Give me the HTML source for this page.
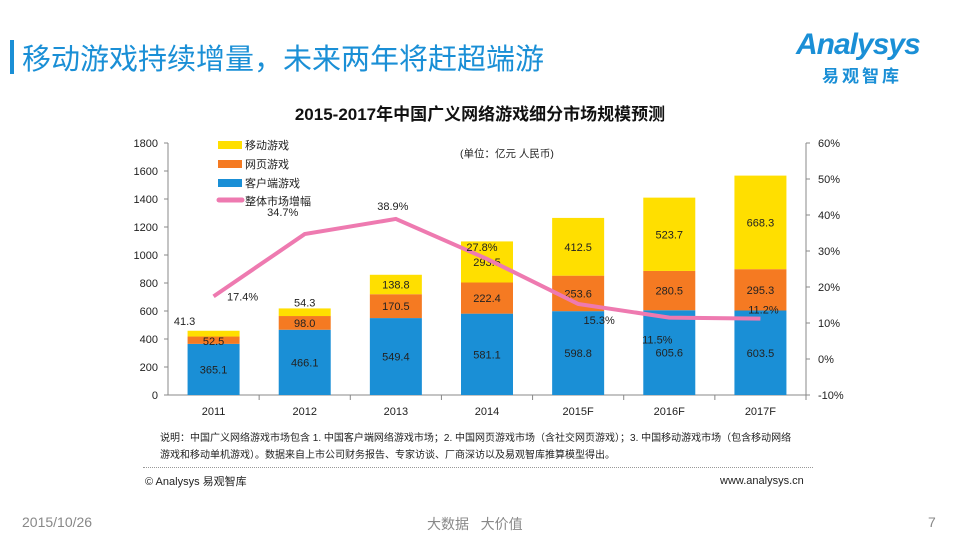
<!DOCTYPE html>
<html><head><meta charset="utf-8"><style>
body{margin:0;width:960px;height:540px;background:#fff;font-family:"Liberation Sans","Noto Sans CJK SC",sans-serif;overflow:hidden;position:relative}
.a{position:absolute;white-space:nowrap}
</style></head><body>
<div class="a" style="left:10px;top:40px;width:4px;height:34px;background:#1a8fd6"></div>
<div class="a" style="left:22px;top:36px;font-size:29px;color:#1a8fd6">移动游戏持续增量，未来两年将赶超端游</div>
<div class="a" style="left:796px;top:28px;font-size:30px;color:#1a8fd6;font-style:italic;font-weight:bold;letter-spacing:-1px">Analysys</div>
<div class="a" style="left:822px;top:62px;font-size:17px;color:#1a8fd6;font-weight:bold;letter-spacing:3px">易观智库</div>
<div class="a" style="left:0;width:960px;top:100px;text-align:center;font-size:17px;font-weight:bold;color:#111">2015-2017年中国广义网络游戏细分市场规模预测</div>
<svg class="a" style="left:0;top:0" width="960" height="540" id="chart"></svg>
<div class="a" style="left:160px;top:430px;font-size:10px;line-height:17px;color:#222">说明：中国广义网络游戏市场包含 1. 中国客户端网络游戏市场；2. 中国网页游戏市场（含社交网页游戏）；3. 中国移动游戏市场（包含移动网络<br>游戏和移动单机游戏）。数据来自上市公司财务报告、专家访谈、厂商深访以及易观智库推算模型得出。</div>
<div class="a" style="left:143px;top:467px;width:670px;border-top:1px dotted #999"></div>
<div class="a" style="left:145px;top:473px;font-size:11px;color:#222">© Analysys 易观智库</div>
<div class="a" style="left:720px;top:475px;font-size:11px;color:#222">www.analysys.cn</div>
<div class="a" style="left:22px;top:514px;font-size:14px;color:#888">2015/10/26</div>
<div class="a" style="left:427px;top:514px;font-size:14px;color:#888">大数据&nbsp;&nbsp;&nbsp;大价值</div>
<div class="a" style="left:928px;top:514px;font-size:14px;color:#888">7</div>
<script>
const categories=["2011","2012","2013","2014","2015F","2016F","2017F"];
const clientVals=[365.1,466.1,549.4,581.1,598.8,605.6,603.5];
const webVals=[52.5,98.0,170.5,222.4,253.6,280.5,295.3];
const mobileVals=[41.3,54.3,138.8,293.5,412.5,523.7,668.3];
const growthVals=[17.4,34.7,38.9,27.8,15.3,11.5,11.2];
const leftTicks=[0,200,400,600,800,1000,1200,1400,1600,1800];
const rightTicks=[-10,0,10,20,30,40,50,60];
const svg=document.getElementById('chart');const NS='http://www.w3.org/2000/svg';
const X0=168,X1=806,Y0=395,Y1=143;
const bw=(X1-X0)/categories.length;
const yL=v=>Y0-(v/1800)*(Y0-Y1);
const yR=v=>Y0-((v+10)/70)*(Y0-Y1);
const xc=i=>X0+bw*(i+0.5);
function mk(t,a,name){const e=document.createElementNS(NS,t);for(const k in a)e.setAttribute(k,a[k]);


svg.appendChild(e);return e;}
function tx(x,y,s,anchor,name,size){const e=mk('text',{x:x,y:y,'text-anchor':anchor||'middle','font-size':size||11,fill:'#222','font-family':'Liberation Sans, Noto Sans CJK SC, sans-serif'},name);e.textContent=s;return e;}
mk('line',{x1:X0,y1:Y1,x2:X0,y2:Y0,stroke:'#888'},'left-axis');
mk('line',{x1:X1,y1:Y1,x2:X1,y2:Y0,stroke:'#888'},'right-axis');
mk('line',{x1:X0,y1:Y0,x2:X1,y2:Y0,stroke:'#888'},'x-axis');
leftTicks.forEach(t=>{mk('line',{x1:X0-4,y1:yL(t),x2:X0,y2:yL(t),stroke:'#888'},'left-tick');tx(X0-10,yL(t)+4,t,'end','left-tick-label',11);});
rightTicks.forEach(t=>{mk('line',{x1:X1,y1:yR(t),x2:X1+4,y2:yR(t),stroke:'#888'},'right-tick');tx(X1+12,yR(t)+4,t+'%','start','right-tick-label',11);});
categories.forEach((c,i)=>{
 mk('line',{x1:X0+bw*(i+1),y1:Y0,x2:X0+bw*(i+1),y2:Y0+5,stroke:'#888'},'x-tick');
 tx(xc(i),Y0+20,c,'middle','x-tick-label',11);
 const w=52,x=xc(i)-w/2;
 const segs=[[clientVals[i],'#1a8fd6','bar-client'],[webVals[i],'#f57a22','bar-web'],[mobileVals[i],'#ffdf00','bar-mobile']];
 let base=0;
 segs.forEach((s,k)=>{const y2=yL(base),y1=yL(base+s[0]);mk('rect',{x:x,y:y1,width:w,height:y2-y1,fill:s[1]},s[2]);
  let lx=xc(i),ly=(y1+y2)/2+4;
  if(i===0&&k===2){lx=xc(i)-29;ly=y1-6;}
  if(i===0&&k===1){ly=(y1+y2)/2+5;}
  if(i===1&&k===2){ly=y1-2;}
  tx(lx,ly,s[0].toFixed(1),'middle',s[2]+'-label',11);base+=s[0];});
});
const pts=growthVals.map((g,i)=>xc(i)+','+yR(g)).join(' ');
mk('polyline',{points:pts,fill:'none',stroke:'#ee7ab0','stroke-width':4},'growth-line');
const off=[[29,0],[-22,-22],[-3,-13],[-5,-12],[21,16],[-12,22],[3,-9]];
growthVals.forEach((g,i)=>tx(xc(i)+off[i][0],yR(g)+off[i][1]+4,g.toFixed(1)+'%','middle','growth-label',11));
const leg=[['#ffdf00','移动游戏'],['#f57a22','网页游戏'],['#1a8fd6','客户端游戏']];
leg.forEach((l,i)=>{mk('rect',{x:218,y:141+i*19,width:24,height:8,fill:l[0]},'legend-swatch');tx(245,149+i*19,l[1],'start','legend-entry',11);});
mk('line',{x1:219,y1:200,x2:242,y2:200,stroke:'#ee7ab0','stroke-width':5,'stroke-linecap':'round'},'legend-line-swatch');
tx(245,205,'整体市场增幅','start','legend-entry',11);
tx(460,157,'(单位：亿元  人民币)','start','unit-label',10.5);
</script>
</body></html>
